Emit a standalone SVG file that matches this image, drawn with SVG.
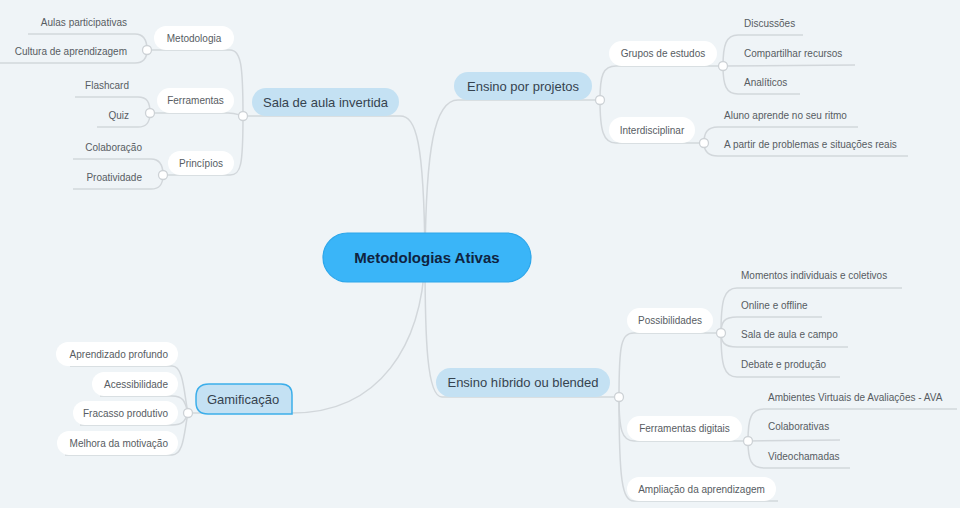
<svg xmlns="http://www.w3.org/2000/svg" width="960" height="508" viewBox="0 0 960 508">
<style>
.line{fill:none;stroke:#d2d7db;stroke-width:1.5}
.dot{fill:#fff;stroke:#cdd2d6;stroke-width:1.3}
.main{fill:#c4e1f3}
.sub{fill:#fff}
text{font-family:"Liberation Sans",Arial,sans-serif}
.tc{font-size:15px;font-weight:bold;fill:#0f2340;text-anchor:middle}
.tm{font-size:13px;fill:#36434f;text-anchor:middle}
.ts{font-size:10px;fill:#575c62;text-anchor:middle}
.tl{font-size:10px;fill:#575c62}
.tr{font-size:10px;fill:#575c62;text-anchor:end}
</style>
<rect width="960" height="508" fill="#eff4f7"/>
<g id="connectors">
<path class="line" d="M243 116 L400 116 C416 116 424 140 425 258"/>
<path class="line" d="M425 258 C426 150 434 100 458 100 L600 100"/>
<path class="line" d="M425 258 C425 340 427 397 442 397 L619 397"/>
<path class="line" d="M425 258 C422 345 380 413 292 413 L188 413"/>
<path class="line" d="M243 116 C243 65 241 50 230 50 L147 50"/>
<path class="line" d="M243 116 C236 114 236 113 228 113 L150 113"/>
<path class="line" d="M243 116 C243 165 241 175 230 175 L163 175"/>
<path class="line" d="M147 50 C147 40 144 34 135 34 L28 34"/>
<path class="line" d="M147 50 C147 58 144 63 135 63 L0 63"/>
<path class="line" d="M150 113 C150 102 147 97 138 97 L75 97"/>
<path class="line" d="M150 113 C150 122 147 127 138 127 L97 127"/>
<path class="line" d="M163 175 C163 165 160 159 151 159 L73 159"/>
<path class="line" d="M163 175 C163 184 160 189 151 189 L73 189"/>
<path class="line" d="M188 413 C184 395 184 366 172 366 L70 366"/>
<path class="line" d="M188 413 C185 402 184 396 172 396 L100 396"/>
<path class="line" d="M188 413 C185 420 184 425 172 425 L80 425"/>
<path class="line" d="M188 413 C184 432 184 455 172 455 L65 455"/>
<path class="line" d="M600 100 C600 75 603 66 616 66 L723 66"/>
<path class="line" d="M600 100 C600 130 603 143 616 143 L704 143"/>
<path class="line" d="M723 66 C723 45 726 35 738 35 L803 35"/>
<path class="line" d="M723 66 L855 65"/>
<path class="line" d="M723 66 C723 85 726 94 738 94 L800 94"/>
<path class="line" d="M704 143 C704 133 707 127 718 127 L858 127"/>
<path class="line" d="M704 143 C704 150 707 156 718 156 L908 156"/>
<path class="line" d="M619 397 C619 345 621 333 634 333 L721 333"/>
<path class="line" d="M619 397 C619 430 622 441 634 441 L748 441"/>
<path class="line" d="M619 397 C619 480 622 501 634 501 L778 501"/>
<path class="line" d="M721 333 C721 300 724 288 737 288 L902 288"/>
<path class="line" d="M721 333 C721 322 724 317 737 317 L822 317"/>
<path class="line" d="M721 333 C721 342 724 347 737 347 L848 347"/>
<path class="line" d="M721 333 C721 365 724 377 737 377 L840 377"/>
<path class="line" d="M748 441 C748 418 751 409 764 409 L957 409"/>
<path class="line" d="M748 441 L840 440"/>
<path class="line" d="M748 441 C748 460 751 468 764 468 L850 468"/>
</g>
<g id="center">
<rect x="323" y="233" width="208" height="49" rx="24.5" fill="#3ab5f8" stroke="#2ca6ea" stroke-width="1.2"/>
<text class="tc" x="427" y="263">Metodologias Ativas</text>
</g>
<g id="sala">
<rect class="main" x="252" y="88" width="147" height="28" rx="14"/>
<text class="tm" x="325.5" y="106.5">Sala de aula invertida</text>
<circle class="dot" cx="243" cy="116" r="4.5"/>
</g>
<g id="metodologia">
<rect class="sub" x="154" y="26" width="80" height="24" rx="12"/>
<text class="ts" x="194" y="41.5">Metodologia</text>
<circle class="dot" cx="147" cy="50" r="4.5"/>
</g>
<g id="aulas"><text class="tr" x="127" y="26">Aulas participativas</text></g>
<g id="cultura"><text class="tr" x="127" y="55">Cultura de aprendizagem</text></g>
<g id="ferramentas">
<rect class="sub" x="157" y="88" width="77" height="25" rx="12.5"/>
<text class="ts" x="195.5" y="104">Ferramentas</text>
<circle class="dot" cx="150" cy="113" r="4.5"/>
</g>
<g id="flashcard"><text class="tr" x="129" y="89">Flashcard</text></g>
<g id="quiz"><text class="tr" x="129" y="119">Quiz</text></g>
<g id="principios">
<rect class="sub" x="168" y="151" width="66" height="24" rx="12"/>
<text class="ts" x="201" y="166.5">Princípios</text>
<circle class="dot" cx="163" cy="175" r="4.5"/>
</g>
<g id="colaboracao"><text class="tr" x="142" y="151">Colaboração</text></g>
<g id="proatividade"><text class="tr" x="142" y="181">Proatividade</text></g>
<g id="gamificacao">
<path d="M209 384 H281 Q292 384 292 395 V414 H208 Q196 414 196 402 V397 Q196 384 209 384 Z" fill="#c4e1f3" stroke="#3caeea" stroke-width="1.5"/>
<text class="tm" x="243" y="403.5">Gamificação</text>
<circle class="dot" cx="188" cy="413" r="4.5"/>
</g>
<g id="aprendizado">
<rect class="sub" x="56" y="342" width="122" height="24" rx="12"/>
<text class="tr" x="168" y="357.5">Aprendizado profundo</text>
</g>
<g id="acessibilidade">
<rect class="sub" x="92" y="372" width="86" height="24" rx="12"/>
<text class="tr" x="168" y="387.5">Acessibilidade</text>
</g>
<g id="fracasso">
<rect class="sub" x="73" y="401" width="105" height="24" rx="12"/>
<text class="tr" x="168" y="416.5">Fracasso produtivo</text>
</g>
<g id="melhora">
<rect class="sub" x="57" y="431" width="121" height="24" rx="12"/>
<text class="tr" x="168" y="446.5">Melhora da motivação</text>
</g>
<g id="projetos">
<rect class="main" x="454" y="72" width="138" height="28" rx="14"/>
<text class="tm" x="523" y="90.5">Ensino por projetos</text>
<circle class="dot" cx="600" cy="100" r="4.5"/>
</g>
<g id="grupos">
<rect class="sub" x="609" y="41" width="108" height="25" rx="12.5"/>
<text class="ts" x="663" y="57">Grupos de estudos</text>
<circle class="dot" cx="723" cy="66" r="4.5"/>
</g>
<g id="discussoes"><text class="tl" x="744" y="27">Discussões</text></g>
<g id="compartilhar"><text class="tl" x="744" y="56.5">Compartilhar recursos</text></g>
<g id="analiticos"><text class="tl" x="744" y="86">Analíticos</text></g>
<g id="interdisciplinar">
<rect class="sub" x="609" y="117" width="86" height="26" rx="13"/>
<text class="ts" x="652" y="133.5">Interdisciplinar</text>
<circle class="dot" cx="704" cy="143" r="4.5"/>
</g>
<g id="aluno"><text class="tl" x="724" y="119">Aluno aprende no seu ritmo</text></g>
<g id="apartir"><text class="tl" x="724" y="148">A partir de problemas e situações reais</text></g>
<g id="hibrido">
<rect class="main" x="436" y="368" width="174" height="29" rx="14.5"/>
<text class="tm" x="523" y="387">Ensino híbrido ou blended</text>
<circle class="dot" cx="619" cy="397" r="4.5"/>
</g>
<g id="possibilidades">
<rect class="sub" x="627" y="308" width="86" height="25" rx="12.5"/>
<text class="ts" x="670" y="324">Possibilidades</text>
<circle class="dot" cx="721" cy="333" r="4.5"/>
</g>
<g id="momentos"><text class="tl" x="741" y="279">Momentos individuais e coletivos</text></g>
<g id="online"><text class="tl" x="741" y="308.5">Online e offline</text></g>
<g id="salacampo"><text class="tl" x="741" y="338">Sala de aula e campo</text></g>
<g id="debate"><text class="tl" x="741" y="368">Debate e produção</text></g>
<g id="ferrdigitais">
<rect class="sub" x="627" y="416" width="115" height="25" rx="12.5"/>
<text class="ts" x="684.5" y="432">Ferramentas digitais</text>
<circle class="dot" cx="748" cy="441" r="4.5"/>
</g>
<g id="ambientes"><text class="tl" x="768" y="401">Ambientes Virtuais de Avaliações - AVA</text></g>
<g id="colaborativas"><text class="tl" x="768" y="430">Colaborativas</text></g>
<g id="videochamadas"><text class="tl" x="768" y="459.5">Videochamadas</text></g>
<g id="ampliacao">
<rect class="sub" x="627" y="477" width="149" height="24" rx="12"/>
<text class="ts" x="701.5" y="492.5">Ampliação da aprendizagem</text>
</g>
</svg>
